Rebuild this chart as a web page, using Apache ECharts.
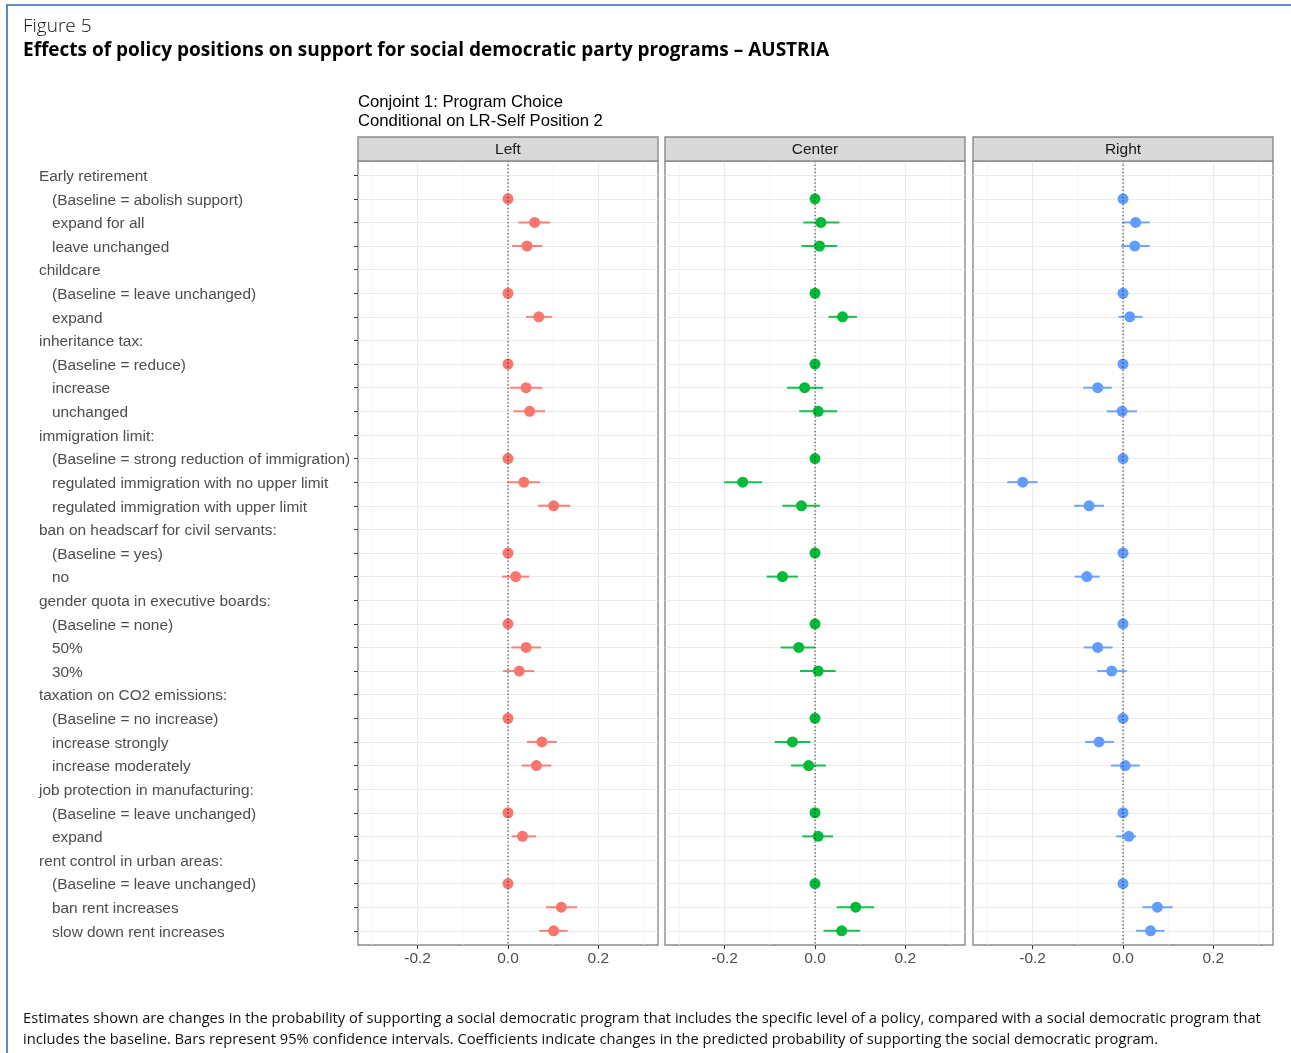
<!DOCTYPE html>
<html>
<head>
<meta charset="utf-8">
<title>Figure 5 – AUSTRIA</title>
<script src="https://cdn.jsdelivr.net/npm/echarts@6/dist/echarts.min.js"></script>
<style>
  html, body { margin: 0; padding: 0; background: #ffffff; }
  #chart { width: 1291px; height: 1053px; }
</style>
</head>
<body>
<div id="chart"></div>
<script>
// Row labels, top to bottom; header rows carry no estimate
const rowLabels = [
  'Early retirement', '(Baseline = abolish support)', 'expand for all', 'leave unchanged',
  'childcare', '(Baseline = leave unchanged)', 'expand',
  'inheritance tax:', '(Baseline = reduce)', 'increase', 'unchanged',
  'immigration limit:', '(Baseline = strong reduction of immigration)', 'regulated immigration with no upper limit', 'regulated immigration with upper limit',
  'ban on headscarf for civil servants:', '(Baseline = yes)', 'no',
  'gender quota in executive boards:', '(Baseline = none)', '50%', '30%',
  'taxation on CO2 emissions:', '(Baseline = no increase)', 'increase strongly', 'increase moderately',
  'job protection in manufacturing:', '(Baseline = leave unchanged)', 'expand',
  'rent control in urban areas:', '(Baseline = leave unchanged)', 'ban rent increases', 'slow down rent increases'
];
const headerRows = [0, 4, 7, 11, 15, 18, 22, 26, 29];

const panelNames = ['Left', 'Center', 'Right'];
const panelColors = ['#F8766D', '#00BA38', '#619CFF'];

// Estimates and 95% confidence bounds per panel (null = header row / baseline without interval)
const leftEst = [null, 0, 0.059, 0.042, null, 0, 0.068, null, 0, 0.040, 0.048, null, 0, 0.035, 0.101, null, 0, 0.017, null, 0, 0.040, 0.025, null, 0, 0.075, 0.063, null, 0, 0.032, null, 0, 0.118, 0.101];
const leftLo = [null, null, 0.023, 0.009, null, null, 0.040, null, null, 0.004, 0.012, null, null, -0.001, 0.066, null, null, -0.013, null, null, 0.007, -0.011, null, null, 0.042, 0.030, null, null, 0.008, null, null, 0.084, 0.069];
const leftHi = [null, null, 0.093, 0.076, null, null, 0.097, null, null, 0.076, 0.082, null, null, 0.071, 0.138, null, null, 0.047, null, null, 0.073, 0.058, null, null, 0.108, 0.096, null, null, 0.062, null, null, 0.153, 0.132];

const centerEst = [null, 0, 0.013, 0.010, null, 0, 0.061, null, 0, -0.023, 0.007, null, 0, -0.160, -0.030, null, 0, -0.072, null, 0, -0.036, 0.007, null, 0, -0.050, -0.014, null, 0, 0.007, null, 0, 0.090, 0.059];
const centerLo = [null, null, -0.026, -0.030, null, null, 0.030, null, null, -0.062, -0.035, null, null, -0.201, -0.072, null, null, -0.107, null, null, -0.076, -0.033, null, null, -0.089, -0.053, null, null, -0.028, null, null, 0.048, 0.019];
const centerHi = [null, null, 0.054, 0.049, null, null, 0.093, null, null, 0.018, 0.049, null, null, -0.117, 0.011, null, null, -0.038, null, null, 0.000, 0.046, null, null, -0.010, 0.024, null, null, 0.040, null, null, 0.131, 0.100];

const rightEst = [null, 0, 0.028, 0.026, null, 0, 0.015, null, 0, -0.056, -0.002, null, 0, -0.222, -0.075, null, 0, -0.080, null, 0, -0.056, -0.025, null, 0, -0.053, 0.005, null, 0, 0.013, null, 0, 0.076, 0.061];
const rightLo = [null, null, -0.001, -0.004, null, null, -0.010, null, null, -0.088, -0.036, null, null, -0.256, -0.108, null, null, -0.107, null, null, -0.087, -0.057, null, null, -0.084, -0.027, null, null, -0.015, null, null, 0.043, 0.029];
const rightHi = [null, null, 0.059, 0.059, null, null, 0.043, null, null, -0.025, 0.031, null, null, -0.189, -0.042, null, null, -0.052, null, null, -0.023, 0.008, null, null, -0.020, 0.037, null, null, 0.029, null, null, 0.110, 0.092];

const xTicks = [-0.2, 0.0, 0.2];
const xMinorBreaks = [-0.3, -0.1, 0.1, 0.3];

const panels = [
  { est: leftEst, lo: leftLo, hi: leftHi },
  { est: centerEst, lo: centerLo, hi: centerHi },
  { est: rightEst, lo: rightLo, hi: rightHi }
];

// Layout
const X_MIN = -0.332, X_MAX = 0.332;
const Y_MIN = -0.6, Y_MAX = rowLabels.length - 1 + 0.6;
const gridLefts = [358, 665, 973];
const gridWidth = 300;
const gridTop = 161;
const gridHeight = 784;
const stripH = 24;
const AXIS_GREY = '#4d4d4d';
const GRID_LINE = '#ebebeb';
const BORDER = '#8a8a8a';
const SANS = '"Liberation Sans", Arial, sans-serif';

const chart = echarts.init(document.getElementById('chart'), null, { renderer: 'canvas' });

const rowIdx = rowLabels.map((_, i) => i);

const grids = [], xAxes = [], yAxes = [], series = [];

panels.forEach((p, k) => {
  grids.push({
    left: gridLefts[k], top: gridTop, width: gridWidth, height: gridHeight,
    show: true, borderColor: BORDER, borderWidth: 1.4, backgroundColor: '#ffffff',
    outerBoundsMode: 'none', containLabel: false
  });
  xAxes.push({
    gridIndex: k, type: 'value', min: X_MIN, max: X_MAX, position: 'bottom',
    axisLine: { show: false, onZero: false },
    axisTick: { show: true, customValues: xTicks, length: 4, lineStyle: { color: '#333333', width: 1 } },
    axisLabel: {
      show: true, customValues: xTicks, margin: 6,
      color: AXIS_GREY, fontFamily: SANS, fontSize: 15.5,
      formatter: v => v.toFixed(1)
    },
    splitLine: { show: true, lineStyle: { color: GRID_LINE, width: 1.1 } }
  });
  yAxes.push({
    gridIndex: k, type: 'value', min: Y_MIN, max: Y_MAX, inverse: true, position: 'left',
    axisLine: { show: false, onZero: false },
    axisTick: { show: k === 0, customValues: rowIdx, length: 4, lineStyle: { color: '#333333', width: 1 } },
    axisLabel: {
      show: k === 0, customValues: rowIdx, margin: 319, align: 'left',
      color: AXIS_GREY, fontFamily: SANS, fontSize: 15.4,
      formatter: v => {
        const i = Math.round(v);
        return headerRows.includes(i) ? '{h|' + rowLabels[i] + '}' : '{l|' + rowLabels[i] + '}';
      },
      rich: {
        h: { color: AXIS_GREY, fontFamily: SANS, fontSize: 15.4, padding: [3, 0, 0, 0] },
        l: { color: AXIS_GREY, fontFamily: SANS, fontSize: 15.4, padding: [3, 0, 0, 13] }
      }
    },
    splitLine: { show: true, lineStyle: { color: GRID_LINE, width: 1.1 } }
  });

  // minor vertical grid lines
  series.push({
    type: 'custom', xAxisIndex: k, yAxisIndex: k, silent: true, z: 0,
    data: xMinorBreaks.map(v => [v]),
    renderItem: (params, api) => {
      const a = api.coord([api.value(0), Y_MIN]);
      const b = api.coord([api.value(0), Y_MAX]);
      return { type: 'line', shape: { x1: a[0], y1: a[1], x2: b[0], y2: b[1] },
        style: { stroke: '#f3f3f3', lineWidth: 0.8 } };
    }
  });

  // confidence intervals
  const ciData = [];
  p.lo.forEach((lo, i) => { if (lo !== null && p.hi[i] !== null) ciData.push([i, lo, p.hi[i]]); });
  series.push({
    type: 'custom', xAxisIndex: k, yAxisIndex: k, silent: true, z: 2,
    data: ciData,
    renderItem: (params, api) => {
      const row = api.value(0);
      const a = api.coord([api.value(1), row]);
      const b = api.coord([api.value(2), row]);
      return { type: 'line', shape: { x1: a[0], y1: a[1], x2: b[0], y2: b[1] },
        style: { stroke: panelColors[k], lineWidth: 2, opacity: 0.9 } };
    }
  });

  // point estimates
  const ptData = [];
  p.est.forEach((e, i) => { if (e !== null) ptData.push([e, i]); });
  series.push({
    type: 'scatter', xAxisIndex: k, yAxisIndex: k, silent: true, z: 3,
    symbol: 'circle', symbolSize: 11,
    itemStyle: { color: panelColors[k], opacity: 1 },
    data: ptData
  });

  // dotted reference line at zero
  series.push({
    type: 'custom', xAxisIndex: k, yAxisIndex: k, silent: true, z: 4,
    data: [[0]],
    renderItem: (params, api) => {
      const a = api.coord([api.value(0), Y_MIN]);
      const b = api.coord([api.value(0), Y_MAX]);
      return { type: 'line', shape: { x1: a[0], y1: a[1], x2: b[0], y2: b[1] },
        style: { stroke: '#2a2a2a', lineWidth: 1.1, lineDash: [1.2, 2.4] } };
    }
  });
});

// Facet strips, titles, caption and frame
const graphics = [];
panelNames.forEach((name, k) => {
  graphics.push({
    type: 'rect', x: gridLefts[k], y: gridTop - stripH, z: 10,
    shape: { width: gridWidth, height: stripH },
    style: { fill: '#d9d9d9', stroke: BORDER, lineWidth: 1.4 }
  });
  graphics.push({
    type: 'text', x: gridLefts[k] + gridWidth / 2, y: gridTop - stripH / 2 + 1, z: 11,
    style: { text: name, font: '15.5px ' + SANS, fill: '#1a1a1a', align: 'center', verticalAlign: 'middle' }
  });
});

graphics.push(
  { type: 'rect', x: 7, y: 5, z: 12, shape: { width: 1300, height: 1100 },
    style: { fill: 'none', stroke: '#2f6eb0', lineWidth: 1.6 } },
  { type: 'text', x: 23, y: 27, z: 12,
    style: { text: 'Figure 5', font: '300 19px "Open Sans", "Noto Sans", sans-serif', fill: '#111111', verticalAlign: 'middle' } },
  { type: 'text', x: 23, y: 51, z: 12,
    style: { text: 'Effects of policy positions on support for social democratic party programs \u2013 AUSTRIA', font: 'bold 19px "Open Sans", "Noto Sans", sans-serif', fill: '#000000', verticalAlign: 'middle' } },
  { type: 'text', x: 358, y: 102, z: 12,
    style: { text: 'Conjoint 1: Program Choice', font: '16.7px ' + SANS, fill: '#000000', verticalAlign: 'middle' } },
  { type: 'text', x: 358, y: 121, z: 12,
    style: { text: 'Conditional on LR-Self Position 2', font: '16.7px ' + SANS, fill: '#000000', verticalAlign: 'middle' } },
  { type: 'text', x: 23, y: 1019, z: 12,
    style: { text: 'Estimates shown are changes in the probability of supporting a social democratic program that includes the specific level of a policy, compared with a social democratic program that', font: '14.7px "Open Sans", sans-serif', fill: '#111111', verticalAlign: 'middle' } },
  { type: 'text', x: 23, y: 1040, z: 12,
    style: { text: 'includes the baseline. Bars represent 95% confidence intervals. Coefficients indicate changes in the predicted probability of supporting the social democratic program.', font: '14.7px "Open Sans", sans-serif', fill: '#111111', verticalAlign: 'middle' } }
);

chart.setOption({
  animation: false,
  backgroundColor: '#ffffff',
  grid: grids,
  xAxis: xAxes,
  yAxis: yAxes,
  series: series,
  graphic: graphics
});
</script>
</body>
</html>
